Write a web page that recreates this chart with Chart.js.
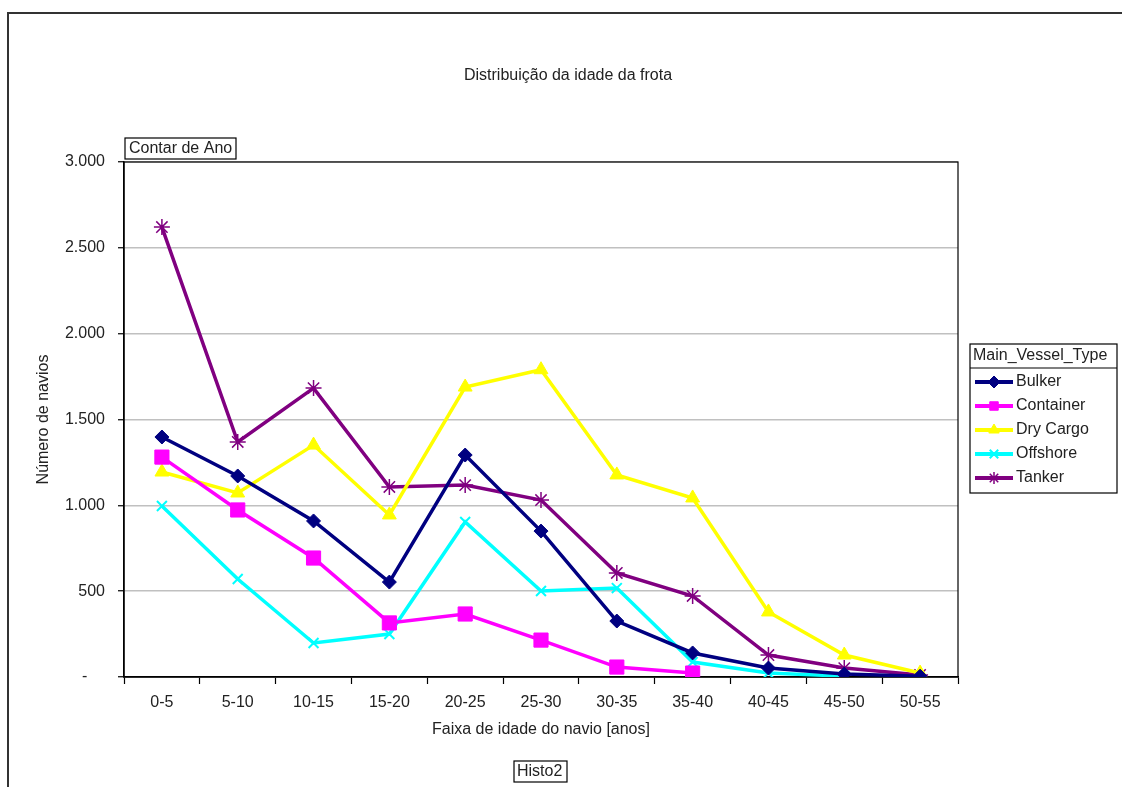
<!DOCTYPE html>
<html lang="pt">
<head>
    <meta charset="UTF-8">
    <title>Distribuição da idade da frota</title>
    <script src="https://cdn.jsdelivr.net/npm/chart.js"></script>
    <style>
        html, body {
            margin: 0;
            padding: 0;
            background: #fff;
        }
        #wrap {
            position: relative;
            width: 1122px;
            height: 787px;
        }
    </style>
</head>
<body>
<div id="wrap">
    <canvas id="fleetChart" width="1122" height="787"></canvas>
</div>
<script>
// faixas de idade (eixo x)
const ageBands = ['0-5', '5-10', '10-15', '15-20', '20-25', '25-30', '30-35', '35-40', '40-45', '45-50', '50-55'];

// número de navios por tipo
const bulker    = [1398, 1171, 909, 553, 1293, 850, 326, 140, 52, 17, 5];
const container = [1281, 973, 693, 315, 367, 215, 58, 23, null, null, null];
const dryCargo  = [1194, 1072, 1351, 944, 1689, 1790, 1177, 1043, 379, 128, 23];
const offshore  = [996, 571, 198, 250, 903, 501, 518, 87, 23, 5, null];
const tanker    = [2621, 1369, 1683, 1107, 1118, 1031, 606, 472, 128, 52, 12];

const yTicks = [0, 500, 1000, 1500, 2000, 2500, 3000];

const FONT = 'Liberation Sans, Arial, sans-serif';
const TEXT = '#222';

function series(label, data, color, style, radius, bw) {
  return {
    label: label,
    data: data,
    borderColor: color,
    backgroundColor: color,
    borderWidth: 3.5,
    pointStyle: style,
    pointRadius: radius,
    pointHoverRadius: radius,
    pointBorderWidth: bw,
    pointBackgroundColor: color,
    pointBorderColor: color,
    tension: 0,
    spanGaps: false
  };
}

const datasets = [
  series('Bulker', bulker, '#000080', 'rectRot', 7, 1),
  series('Container', container, '#FF00FF', 'rect', 10, 1),
  series('Dry Cargo', dryCargo, '#FFFF00', 'triangle', 8, 1),
  series('Offshore', offshore, '#00FFFF', 'crossRot', 7, 2),
  series('Tanker', tanker, '#800080', 'star', 8, 1.5)
];

// caixas de texto, moldura e legenda desenhadas à mão
const decorations = {
  id: 'decorations',
  beforeDatasetsDraw(chart) {
    const ctx = chart.ctx;
    const a = chart.chartArea;
    ctx.save();
    ctx.strokeStyle = '#000';
    ctx.lineWidth = 1.2;
    ctx.strokeRect(a.left, a.top, a.right - a.left, a.bottom - a.top);
    ctx.restore();
  },
  afterDraw(chart) {
    const ctx = chart.ctx;
    ctx.save();

    // moldura externa
    ctx.strokeStyle = '#333';
    ctx.lineWidth = 2;
    ctx.beginPath();
    ctx.moveTo(8, 800);
    ctx.lineTo(8, 13);
    ctx.lineTo(1130, 13);
    ctx.stroke();

    ctx.font = '16px ' + FONT;
    ctx.fillStyle = TEXT;
    ctx.textBaseline = 'middle';

    // título
    ctx.textAlign = 'center';
    ctx.fillText('Distribuição da idade da frota', 568, 76);

    // caixa "Contar de Ano"
    ctx.strokeStyle = '#000';
    ctx.lineWidth = 1.2;
    ctx.strokeRect(125, 138, 111, 21);
    ctx.textAlign = 'left';
    ctx.fillText('Contar de Ano', 129, 149);

    // caixa "Histo2"
    ctx.strokeRect(514, 761, 53, 21);
    ctx.fillText('Histo2', 517, 772);

    // legenda
    const lx = 970, ly = 344, lw = 147, lh = 149;
    ctx.fillStyle = '#fff';
    ctx.fillRect(lx, ly, lw, lh);
    ctx.strokeRect(lx, ly, lw, lh);
    ctx.beginPath();
    ctx.moveTo(lx, 368);
    ctx.lineTo(lx + lw, 368);
    ctx.stroke();
    ctx.fillStyle = TEXT;
    ctx.fillText('Main_Vessel_Type', 973, 356);

    const rows = [382, 406, 430, 454, 478];
    datasets.forEach((ds, i) => {
      const y = rows[i];
      ctx.strokeStyle = ds.borderColor;
      ctx.lineWidth = 4;
      ctx.beginPath();
      ctx.moveTo(975, y);
      ctx.lineTo(1013, y);
      ctx.stroke();
      ctx.fillStyle = ds.pointBackgroundColor;
      ctx.strokeStyle = ds.pointBorderColor;
      ctx.lineWidth = ds.pointBorderWidth;
      Chart.helpers.drawPoint(ctx, {
        pointStyle: ds.pointStyle,
        radius: Math.min(ds.pointRadius, 6),
        borderWidth: ds.pointBorderWidth,
        rotation: 0
      }, 994, y);
      ctx.fillStyle = TEXT;
      ctx.fillText(ds.label, 1016, y);
    });

    ctx.restore();
  }
};

new Chart(document.getElementById('fleetChart'), {
  type: 'line',
  data: { labels: ageBands, datasets: datasets },
  options: {
    responsive: false,
    animation: false,
    events: [],
    layout: { padding: { left: 0, top: 162, right: 164, bottom: 0 } },
    plugins: {
      legend: { display: false },
      title: { display: false },
      tooltip: { enabled: false }
    },
    scales: {
      x: {
        type: 'category',
        offset: true,
        grid: {
          offset: true,
          drawOnChartArea: false,
          drawTicks: true,
          tickLength: 7,
          tickColor: '#000',
          tickWidth: 1.2
        },
        border: { color: '#000', width: 1.5 },
        ticks: {
          autoSkip: false,
          maxRotation: 0,
          minRotation: 0,
          padding: 9,
          color: TEXT,
          font: { family: FONT, size: 16 }
        },
        title: {
          display: true,
          text: 'Faixa de idade do navio [anos]',
          color: TEXT,
          font: { family: FONT, size: 16 },
          padding: { top: 0, bottom: 48 }
        },
        afterFit(scale) { scale.height = 110; }
      },
      y: {
        min: 0,
        max: 3000,
        afterBuildTicks(scale) {
          scale.ticks = yTicks.map(v => ({ value: v }));
        },
        grid: {
          color: '#c0c0c0',
          lineWidth: 1.5,
          tickLength: 6,
          tickColor: '#000',
          tickWidth: 1.2
        },
        border: { color: '#000', width: 1.5 },
        ticks: {
          padding: 13,
          color: TEXT,
          font: { family: FONT, size: 16 },
          callback(v) {
            if (v === 0) return '-    ';
            return v.toLocaleString('de-DE');
          }
        },
        title: {
          display: true,
          text: 'Número de navios',
          color: TEXT,
          font: { family: FONT, size: 16 },
          padding: { top: 34, bottom: 0 }
        },
        afterFit(scale) { scale.width = 124; }
      }
    }
  },
  plugins: [decorations]
});
</script>
</body>
</html>
